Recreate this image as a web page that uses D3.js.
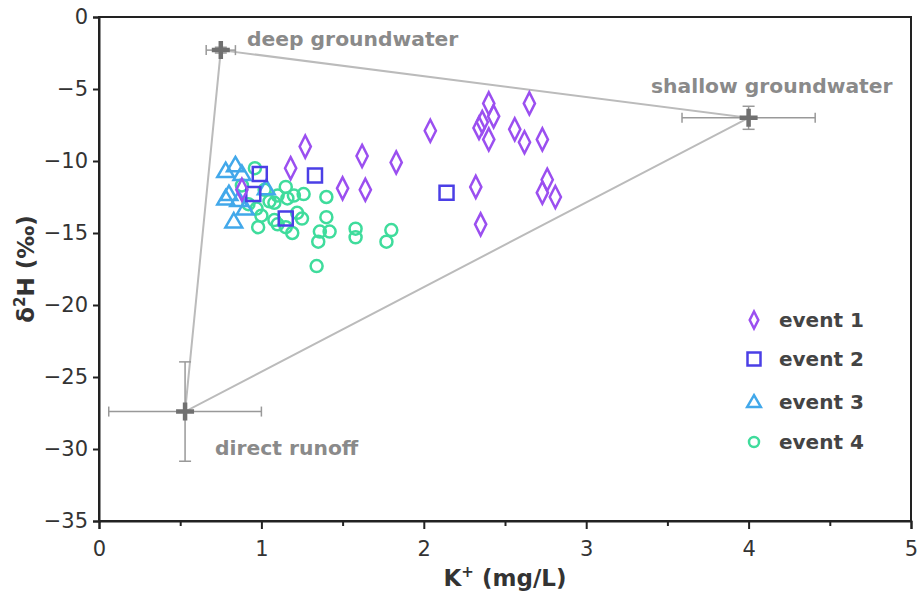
<!DOCTYPE html>
<html>
<head>
<meta charset="utf-8">
<script src="https://cdn.jsdelivr.net/npm/d3@7"></script>
<style>
  body { margin: 0; background: #fff; }
  text { font-family: "DejaVu Sans", sans-serif; }
</style>
</head>
<body>
<svg id="chart" width="919" height="593"></svg>
<script>
// event samples [K+, d2H]
const event1 = [
  [0.88, -12.0], [1.18, -10.5], [1.27, -9.0], [1.50, -11.9], [1.62, -9.65],
  [1.64, -12.0], [1.83, -10.1], [2.04, -7.9], [2.32, -11.8], [2.35, -14.4],
  [2.36, -7.3], [2.34, -7.7], [2.40, -6.0], [2.43, -6.9], [2.40, -8.5],
  [2.56, -7.8], [2.62, -8.7], [2.65, -6.0], [2.73, -8.5], [2.76, -11.3],
  [2.73, -12.2], [2.81, -12.5]
]
const event2 = [[0.99, -10.9], [0.95, -12.3], [1.15, -14.0], [1.33, -11.0], [2.14, -12.2]]
const event3 = [
  [0.78, -10.7], [0.84, -10.3], [0.88, -10.9], [0.80, -12.3], [0.86, -12.7],
  [0.90, -13.3], [0.83, -14.2], [1.03, -11.9], [0.78, -12.6]
]
const event4 = [
  [0.96, -10.5], [0.88, -11.7], [0.97, -13.3], [1.00, -13.8], [0.98, -14.6],
  [1.05, -12.8], [1.08, -12.9], [1.10, -12.4], [1.15, -11.8], [1.16, -12.6],
  [1.20, -12.4], [1.26, -12.3], [1.40, -12.5], [1.08, -14.1], [1.10, -14.4],
  [1.15, -14.6], [1.22, -13.6], [1.25, -14.0], [1.19, -15.0], [1.40, -13.9],
  [1.36, -14.9], [1.42, -14.9], [1.35, -15.6], [1.58, -14.7], [1.58, -15.3],
  [1.80, -14.8], [1.77, -15.6], [1.34, -17.3], [1.02, -12.0], [0.92, -13.0]
]

// end members: name, x, y, x error, y error
const endNames = ['deep groundwater', 'shallow groundwater', 'direct runoff']
const endX = [0.75, 4.0, 0.53]
const endY = [-2.3, -7.0, -27.4]
const endXErr = [0.09, 0.41, 0.47]
const endYErr = [0.2, 0.8, 3.45]

const xTicks = [0, 1, 2, 3, 4, 5]
const xMinor = [0.5, 1.5, 2.5, 3.5, 4.5]
const yTicks = [0, -5, -10, -15, -20, -25, -30, -35]

const legendLabels = ['event 1', 'event 2', 'event 3', 'event 4']
const colors = ['#9b4ff0', '#4b3fe6', '#42a8ea', '#3fdc9c']

const svg = d3.select('#chart')
const m = {l: 99, r: 8, t: 17, b: 72}
const W = 919, H = 593

const x = d3.scaleLinear().domain([0, 5]).range([m.l, W - m.r])
const y = d3.scaleLinear().domain([-35, 0]).range([H - m.b, m.t])

// frame
svg.append('rect')
  .attr('x', x(0)).attr('y', y(0))
  .attr('width', x(5) - x(0)).attr('height', y(-35) - y(0))
  .attr('fill', 'none').attr('stroke', '#222').attr('stroke-width', 2)

// axes
const gx = svg.append('g').attr('transform', `translate(0,${y(-35)})`)
gx.call(d3.axisBottom(x).tickValues(xTicks).tickFormat(d3.format('d')).tickSize(8).tickPadding(12))
gx.append('g').call(d3.axisBottom(x).tickValues(xMinor).tickSize(5).tickFormat(''))
  .select('.domain').remove()

const gy = svg.append('g').attr('transform', `translate(${x(0)},0)`)
gy.call(d3.axisLeft(y).tickValues(yTicks).tickSize(6).tickPadding(5))

svg.selectAll('.domain').attr('stroke', '#222').attr('stroke-width', 2)
svg.selectAll('.tick line').attr('stroke', '#222').attr('stroke-width', 2)
svg.selectAll('.tick text')
  .attr('fill', '#333').style('font-size', '21px')
  .style('font-family', '"DejaVu Sans", sans-serif')

// axis titles
const xt = svg.append('text')
  .attr('x', (x(0) + x(5)) / 2).attr('y', 586)
  .attr('text-anchor', 'middle')
  .attr('fill', '#333').style('font-size', '23px').style('font-weight', 'bold')
xt.append('tspan').text('K')
xt.append('tspan').text('+').attr('dy', -9).style('font-size', '15px')
xt.append('tspan').text(' (mg/L)').attr('dy', 9)

const yt = svg.append('text')
  .attr('transform', `translate(34,${(y(0) + y(-35)) / 2}) rotate(-90)`)
  .attr('text-anchor', 'middle')
  .attr('fill', '#333').style('font-size', '23px').style('font-weight', 'bold')
yt.append('tspan').text('δ')
yt.append('tspan').text('2').attr('dy', -9).style('font-size', '15px')
yt.append('tspan').text('H (‰)').attr('dy', 9)

// mixing triangle
const ends = endX.map((v, i) => [v, endY[i]])
svg.append('path')
  .attr('d', d3.line().x(d => x(d[0])).y(d => y(d[1]))(ends.concat([ends[0]])))
  .attr('fill', 'none').attr('stroke', '#bbb').attr('stroke-width', 2)

// error bars
const eb = svg.append('g').attr('stroke', '#999').attr('stroke-width', 1.5)
ends.forEach((d, i) => {
  const cx = x(d[0]), cy = y(d[1])
  const x0 = x(d[0] - endXErr[i]), x1 = x(d[0] + endXErr[i])
  const y0 = y(d[1] + endYErr[i]), y1 = y(d[1] - endYErr[i])
  eb.append('line').attr('x1', x0).attr('x2', x1).attr('y1', cy).attr('y2', cy)
  eb.append('line').attr('x1', x0).attr('x2', x0).attr('y1', cy - 5).attr('y2', cy + 5)
  eb.append('line').attr('x1', x1).attr('x2', x1).attr('y1', cy - 5).attr('y2', cy + 5)
  eb.append('line').attr('x1', cx).attr('x2', cx).attr('y1', y0).attr('y2', y1)
  eb.append('line').attr('x1', cx - 6).attr('x2', cx + 6).attr('y1', y0).attr('y2', y0)
  eb.append('line').attr('x1', cx - 6).attr('x2', cx + 6).attr('y1', y1).attr('y2', y1)
})

// end member crosses
svg.append('g').selectAll('path')
  .data(ends)
  .join('path')
  .attr('d', d => {
    const cx = x(d[0]), cy = y(d[1])
    return `M${cx - 9},${cy}H${cx + 9}M${cx},${cy - 9}V${cy + 9}`
  })
  .attr('stroke', '#707070').attr('stroke-width', 4.5)

// end member labels
const labelPos = [[247, 46], [651, 93], [215, 455]]
svg.append('g').selectAll('text')
  .data(endNames)
  .join('text')
  .attr('x', (d, i) => labelPos[i][0])
  .attr('y', (d, i) => labelPos[i][1])
  .text(d => d)
  .attr('fill', '#8a8a8a').style('font-size', '20.3px').style('font-weight', 'bold')

// sample markers
const shapes = [
  s => `M0,${-s * 1.3}L${s * 0.66},0L0,${s * 1.3}L${-s * 0.66},0Z`,
  s => `M${-s},${-s}H${s}V${s}H${-s}Z`,
  s => `M0,${-s * 1.05}L${s * 1.05},${s * 0.75}L${-s * 1.05},${s * 0.75}Z`,
  s => d3.arc()({innerRadius: 0, outerRadius: s, startAngle: 0, endAngle: 2 * Math.PI})
]
const sizes = [8.5, 7, 8, 6]
const events = [event1, event2, event3, event4]

// draw order: event 4 underneath
;[3, 2, 1, 0].forEach(k => {
  svg.append('g').selectAll('path')
    .data(events[k])
    .join('path')
    .attr('transform', d => `translate(${x(d[0])},${y(d[1])})`)
    .attr('d', shapes[k](sizes[k]))
    .attr('fill', 'none')
    .attr('stroke', colors[k])
    .attr('stroke-width', 2.5)
})

// legend
const lg = svg.append('g')
const rowY = [320, 359, 402, 442]
legendLabels.forEach((lab, k) => {
  lg.append('path')
    .attr('transform', `translate(754,${rowY[k]})`)
    .attr('d', shapes[k](k == 3 ? 5 : 6.5))
    .attr('fill', 'none').attr('stroke', colors[k]).attr('stroke-width', 2.5)
  lg.append('text')
    .attr('x', 779).attr('y', rowY[k] + 7)
    .text(lab)
    .attr('fill', '#444').style('font-size', '20px').style('font-weight', 'bold')
})
</script>
</body>
</html>
